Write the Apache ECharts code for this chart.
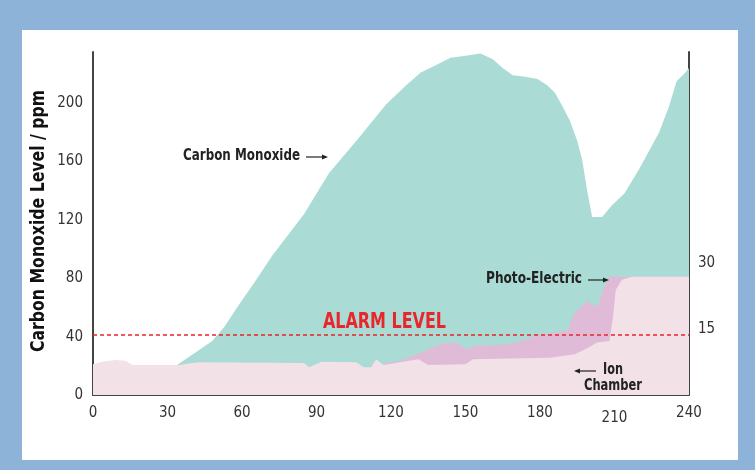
<!DOCTYPE html>
<html>
<head>
<meta charset="utf-8">
<script src="https://cdn.jsdelivr.net/npm/echarts@6/dist/echarts.min.js"></script>
<style>
  html, body { margin: 0; padding: 0; background: #8db3d9; }
  #main { width: 755px; height: 470px; }
</style>
</head>
<body>
<div id="main"></div>
<script>
// seconds on the x axis, ppm on the left axis
const xTicks = [0, 30, 60, 90, 120, 150, 180, 210, 240];
const leftTicks = [0, 40, 80, 120, 160, 200];
const rightTicks = [15, 30];
const alarmLevel = 41;

// [time, ppm]
const carbonMonoxide = [
  [0, 12], [30, 16], [35, 22], [42, 30], [48, 37], [53, 47], [58, 60], [65, 77],
  [72, 95], [85, 124], [95, 152], [106, 174], [118, 199], [126, 212], [132, 221],
  [138, 226], [144, 231], [150, 232.5], [156, 234], [161, 230], [165, 224],
  [169, 219], [174, 218], [179, 216.5], [183, 212], [186, 207], [189, 198],
  [192, 188], [195, 174], [197, 161], [199, 140], [201, 122], [205, 122],
  [209, 130], [214, 138], [220, 155], [228, 180], [232, 198], [235, 215],
  [238, 220], [240, 224]
];
const photoElectric = [
  [0, 15], [114, 16], [118, 22], [124, 23.5], [129, 27], [136, 32], [141, 35.5],
  [146.5, 35.8], [150.5, 31], [153, 33.5], [168, 34.7], [172, 37], [180, 41.5],
  [191, 44], [192, 48], [193.5, 55], [199, 64.5], [201.5, 61], [203.5, 62],
  [205.5, 73], [208, 81], [240, 81]
];
const ionChamber = [
  [0, 21], [4, 23], [9, 24], [13, 23.5], [16, 20.5], [35, 20.5], [40, 22],
  [43, 22.5], [85, 22], [87, 19], [92, 22.8], [106, 22.5], [109, 19], [112, 19],
  [114, 24.5], [117, 20.5], [122, 22], [131, 24.5], [135, 20.5], [150, 21],
  [153, 24.5], [184, 25.5], [194, 28], [199, 32], [203, 36], [208, 37],
  [209.5, 55], [210.5, 72], [213, 79], [217, 81], [240, 81]
];

const teal = '#aadbd5';
const mauve = '#e0bbd8';
const lightPink = '#f2e2e8';
const axisColor = '#444';
const narrow = '"DejaVu Sans Condensed", "DejaVu Sans", sans-serif';

const chart = echarts.init(document.getElementById('main'));

// the original uses a condensed bold face, squeeze text to the width it had
const measureCtx = document.createElement('canvas').getContext('2d');
const squeeze = (text, font, width) => {
  measureCtx.font = font;
  return width / measureCtx.measureText(text).width;
};

const areaSeries = (name, data, color) => ({
  name: name,
  type: 'line',
  data: data,
  showSymbol: false,
  silent: true,
  lineStyle: { width: 0 },
  areaStyle: { color: color, opacity: 1 }
});

// small arrow: line plus triangle head, drawn above the areas
const arrow = (x1, x2, y) => {
  const dir = x2 > x1 ? 1 : -1;
  return {
    type: 'group',
    z: 100,
    children: [
      { type: 'line', z: 100, shape: { x1: x1, y1: y, x2: x2 - dir * 4, y2: y }, style: { stroke: '#222', lineWidth: 1.2 } },
      { type: 'polygon', z: 100, shape: { points: [[x2, y], [x2 - dir * 6, y - 2.5], [x2 - dir * 6, y + 2.5]] }, style: { fill: '#222' } }
    ]
  };
};

const labelText = (x, y, text, width, font, fill) => {
  const f = font || 'bold 15px ' + narrow;
  return {
    type: 'text',
    z: 100,
    x: x,
    y: y,
    scaleX: squeeze(text, f, width),
    style: { text: text, fill: fill || '#222', font: f, textVerticalAlign: 'middle' }
  };
};

const titleFont = 'bold 20px ' + narrow;
const titleText = 'Carbon Monoxide Level / ppm';

const option = {
  backgroundColor: '#8db3d9',
  animation: false,
  grid: { left: 93, right: 66, top: 52, bottom: 75 },
  xAxis: {
    type: 'value',
    min: xTicks[0],
    max: xTicks[xTicks.length - 1],
    interval: 30,
    splitLine: { show: false },
    axisTick: { show: false },
    axisLine: { show: true, onZero: false, lineStyle: { color: axisColor, width: 2 } },
    axisLabel: {
      color: '#333',
      fontSize: 15,
      fontFamily: narrow,
      margin: 11,
      formatter: v => (v === 210 ? '{low|210}' : String(v)),
      rich: { low: { fontSize: 15, fontFamily: narrow, color: '#333', padding: [5, 0, 0, 0] } }
    }
  },
  yAxis: [
    {
      type: 'value',
      min: 0,
      max: 235,
      interval: 40,
      splitLine: { show: false },
      axisTick: { show: false },
      axisLine: { show: true, lineStyle: { color: axisColor, width: 2 } },
      axisLabel: {
        color: '#333',
        fontSize: 15,
        fontFamily: narrow,
        margin: 10,
        formatter: v => (leftTicks.indexOf(v) >= 0 ? String(v) : '')
      }
    },
    {
      type: 'value',
      position: 'right',
      min: 0,
      max: 78.3,
      interval: 15,
      splitLine: { show: false },
      axisTick: { show: false },
      axisLine: { show: true, lineStyle: { color: axisColor, width: 2 } },
      axisLabel: {
        color: '#333',
        fontSize: 15,
        fontFamily: narrow,
        margin: 9,
        formatter: v => (rightTicks.indexOf(v) >= 0 ? String(v) : '')
      }
    }
  ],
  series: [
    areaSeries('Carbon Monoxide', carbonMonoxide, teal),
    areaSeries('Photo-Electric', photoElectric, mauve),
    Object.assign(areaSeries('Ion Chamber', ionChamber, lightPink), {
      markLine: {
        silent: true,
        symbol: ['none', 'none'],
        label: { show: false },
        lineStyle: { color: '#e8262b', type: [4, 3], width: 1.5 },
        data: [{ yAxis: alarmLevel }]
      }
    })
  ],
  graphic: [
    { type: 'rect', z: -10, shape: { x: 22, y: 30, width: 716, height: 430 }, style: { fill: '#fff' } },
    {
      type: 'text',
      z: 100,
      x: 39,
      y: 221,
      rotation: Math.PI / 2,
      scaleX: squeeze(titleText, titleFont, 262),
      style: { text: titleText, font: titleFont, fill: '#111', textAlign: 'center', textVerticalAlign: 'middle' }
    },
    labelText(183, 156, 'Carbon Monoxide', 117),
    arrow(306, 328, 157),
    labelText(486, 279, 'Photo-Electric', 96),
    arrow(588, 609, 280),
    labelText(323, 322, 'ALARM LEVEL', 123, 'bold 22px ' + narrow, '#e8262b'),
    arrow(596, 574, 371),
    labelText(603, 370, 'Ion', 20),
    labelText(584, 386, 'Chamber', 58)
  ]
};

chart.setOption(option);
</script>
</body>
</html>
